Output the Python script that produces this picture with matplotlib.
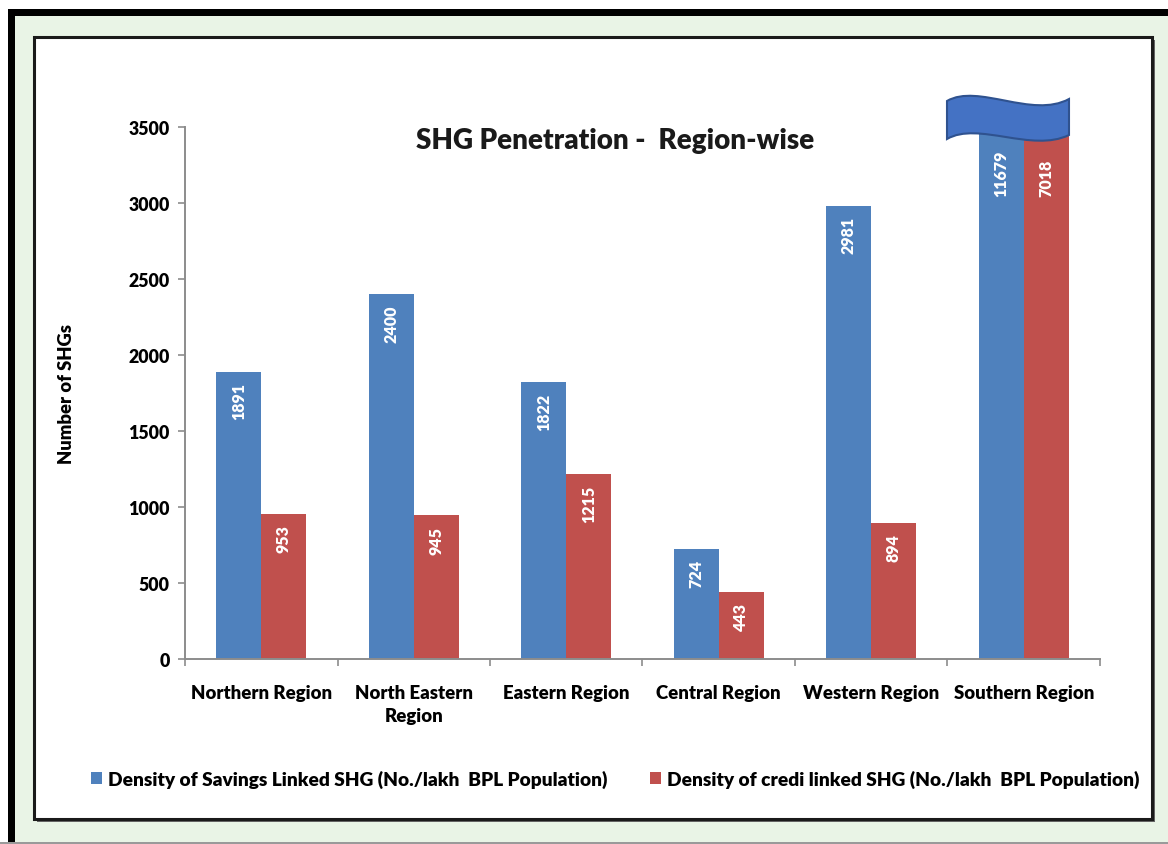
import matplotlib.pyplot as plt
import numpy as np
from matplotlib.patches import Rectangle, PathPatch
from matplotlib.path import Path

plt.rcParams['font.family'] = ['Lato', 'DejaVu Sans']
plt.rcParams['font.weight'] = 'heavy'
plt.rcParams['axes.labelweight'] = 'heavy'

# Region-wise SHG density
regions = ['Northern Region', 'North Eastern\nRegion', 'Eastern Region',
           'Central Region', 'Western Region', 'Southern Region']
savings = [1891, 2400, 1822, 724, 2981, 11679]
credit = [953, 945, 1215, 443, 894, 7018]
series_names = ['Density of Savings Linked SHG (No./lakh  BPL Population)',
                'Density of credi linked SHG (No./lakh  BPL Population)']
yticks = [0, 500, 1000, 1500, 2000, 2500, 3000, 3500]
ymax = 3500

W, H = 1168, 845
fig = plt.figure(figsize=(W / 100, H / 100), dpi=100)
fig.patch.set_facecolor('white')


def px(x, y):
    # pixel position (from top-left) -> figure fraction
    return x / W, 1 - y / H


def frame(x0, y0, x1, y1, **kw):
    fx0, fy1 = px(x0, y0)
    fx1, fy0 = px(x1, y1)
    r = Rectangle((fx0, fy0), fx1 - fx0, fy1 - fy0, transform=fig.transFigure, **kw)
    fig.add_artist(r)
    return r


# outer frame: light green with a heavy black edge on top/left
frame(8, 10, W + 20, H - 2, facecolor='#e9f4e6', edgecolor='none', zorder=-3)
frame(8, 10, 15, H + 5, facecolor='black', edgecolor='none', zorder=-2)
frame(8, 10, W + 20, 17, facecolor='black', edgecolor='none', zorder=-2)
frame(0, H - 2, W + 20, H + 5, facecolor='#9a9a9a', edgecolor='none', zorder=-2)
# white chart panel with a shadowed border
frame(37, 41, 1155, 823, facecolor='#666666', edgecolor='none', zorder=-2)
frame(34, 38, 1152, 820, facecolor='white', edgecolor='#1a1a1a', linewidth=2.2, zorder=-1)

# plotting area
l, t = px(185, 128)
r, b = px(1100, 660)
ax = fig.add_axes([l, b, r - l, t - b])
ax.set_facecolor('none')

x = np.arange(len(regions))
bw = 0.295
blue, red = '#4f81bd', '#c0504d'
b1 = ax.bar(x - bw / 2, savings, bw, color=blue, label=series_names[0], zorder=2)
b2 = ax.bar(x + bw / 2, credit, bw, color=red, label=series_names[1], zorder=2)

# value labels inside the bar tops; bars past the axis top get them below the break
for bars, vals in ((b1, savings), (b2, credit)):
    for bar, v in zip(bars, vals):
        cx = bar.get_x() + bar.get_width() / 2
        if v > ymax:
            ax.annotate(f'{v}', (cx, ymax), xytext=(0, -50), textcoords='offset points',
                        rotation=90, ha='center', va='bottom', color='white',
                        fontsize=11.5, zorder=3)
        else:
            ax.annotate(f'{v}', (cx, v), xytext=(0, -7.5), textcoords='offset points',
                        rotation=90, ha='center', va='top', color='white',
                        fontsize=11.5, zorder=3)

ax.set_xlim(-0.5, len(regions) - 0.5)
ax.set_ylim(0, ymax)
ax.set_yticks(yticks)
ax.tick_params(axis='y', length=5, width=1.2, color='#8c8c8c', labelsize=12.8, pad=6)
ax.set_xticks(x)
ax.set_xticklabels(regions, fontsize=13.4, linespacing=1.45)
ax.tick_params(axis='x', which='major', length=0, pad=18)
ax.set_xticks(np.arange(-0.5, len(regions)), minor=True)
ax.tick_params(axis='x', which='minor', length=5, width=1.2, color='#8c8c8c')
for side in ('top', 'right'):
    ax.spines[side].set_visible(False)
for side in ('left', 'bottom'):
    ax.spines[side].set_color('#8c8c8c')
    ax.spines[side].set_linewidth(1.4)

ax.set_ylabel('Number of SHGs', fontsize=13.2)
ax.yaxis.set_label_coords((75 / W - l) / (r - l), 0.5)

fig.text(*px(615, 141), 'SHG Penetration -  Region-wise', ha='center', va='center',
         fontsize=20, color='#1a1a1a')

# wavy break marker over the truncated Southern bars
verts = [px(947, 102), px(978, 84), px(1032, 120), px(1069, 100),
         px(1069, 136), px(1032, 154), px(978, 122), px(947, 140), px(947, 102)]
codes = [Path.MOVETO, Path.CURVE4, Path.CURVE4, Path.CURVE4,
         Path.LINETO, Path.CURVE4, Path.CURVE4, Path.CURVE4, Path.CLOSEPOLY]
fig.add_artist(PathPatch(Path(verts, codes), facecolor='#4472c4', edgecolor='#2f528f',
                         linewidth=1.5, transform=fig.transFigure, zorder=5))

fig.legend(handles=[b1, b2], loc='center', bbox_to_anchor=px(615, 780), ncol=2,
           frameon=False, fontsize=13.8, handlelength=0.6, handleheight=0.6,
           handletextpad=0.3, columnspacing=2.2)

fig.savefig('out.png', dpi=100)
